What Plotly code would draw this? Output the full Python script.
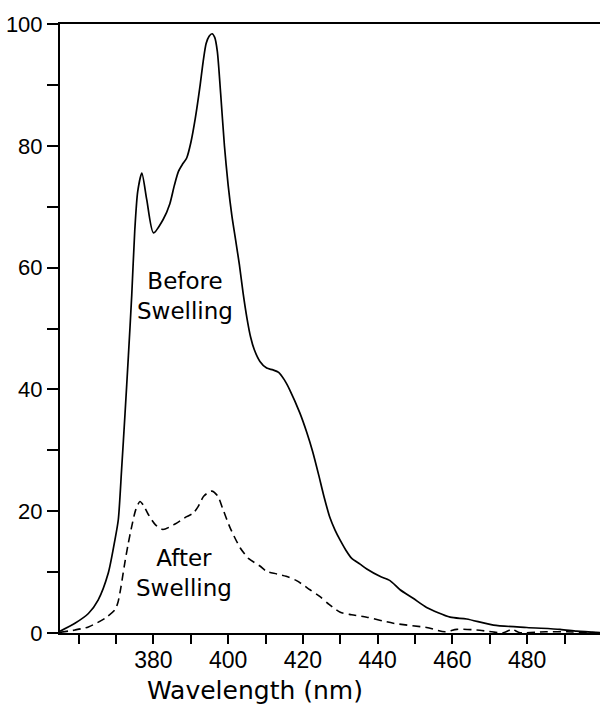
import plotly.graph_objects as go

# Data
before_nm = [355.0, 359.0, 362.6, 365.2, 367.9, 369.7, 370.6, 371.5, 372.4, 373.3,
             374.2, 375.0, 375.8, 376.9, 378.2, 380.0, 382.6, 384.4, 385.6, 386.7,
             387.8, 388.9, 390.0, 391.2, 392.4, 393.3, 394.1, 394.9, 395.7, 396.4,
             397.1, 398.0, 399.0, 400.0, 401.0, 402.0, 403.0, 404.0, 405.0, 406.0,
             407.0, 408.5, 410.3, 412.0, 413.5, 415.0, 416.5, 419.2, 421.0, 422.6,
             424.2, 425.6, 427.2, 428.6, 430.0, 431.5, 433.0, 435.3, 437.1, 440.6,
             443.3, 446.0, 449.5, 453.1, 459.4, 463.8, 471.0, 479.9, 488.8, 493.3,
             499.5]
before_val = [0.3, 1.6, 3.2, 5.4, 9.8, 15.3, 18.6, 27.0, 36.0, 45.5,
              55.5, 66.0, 72.5, 75.5, 71.2, 65.7, 67.9, 70.5, 73.5, 75.8,
              77.0, 78.0, 80.5, 84.5, 89.5, 93.8, 96.8, 98.0, 98.4, 97.8,
              95.5, 88.5, 80.0, 73.5, 68.5, 64.5, 60.5, 55.8, 51.8, 48.6,
              46.5, 44.6, 43.5, 43.2, 42.8, 41.6, 39.9, 36.1, 33.0, 29.8,
              26.0, 22.5, 19.0, 16.9, 15.2, 13.6, 12.3, 11.3, 10.5, 9.3,
              8.6, 7.1, 5.7, 4.2, 2.6, 2.3, 1.3, 0.9, 0.6, 0.3,
              0.05]

after_nm = [355.0, 359.0, 362.6, 367.0, 369.7, 370.5, 371.3, 372.2, 373.2, 374.3,
            375.3, 376.4, 377.3, 378.6, 380.5, 382.5, 385.8, 388.9, 390.7, 392.0,
            393.5, 395.6, 397.2, 398.5, 400.5, 403.2, 405.5, 408.5, 410.3, 413.0,
            415.5, 418.3, 421.9, 424.5, 427.0, 430.0, 433.0, 437.1, 444.2, 453.1,
            458.0, 461.2, 466.5, 473.6, 475.9, 478.1, 485.0, 490.6, 499.5]
after_val = [0.1, 0.5, 1.0, 2.4, 3.8, 5.0, 7.5, 11.0, 14.5, 17.8,
             20.3, 21.6, 21.0, 19.5, 17.8, 17.0, 17.9, 19.1, 19.7, 20.8,
             22.5, 23.3, 22.5, 20.5, 17.3, 14.0, 12.2, 11.0, 10.1, 9.7,
             9.3, 8.6, 7.1, 6.0, 4.7, 3.4, 3.0, 2.6, 1.6, 0.9,
             0.2, 0.6, 0.5, 0.05, 0.6, 0.05, 0.2, 0.2, 0.0]

x_tickvals = [360, 370, 380, 390, 400, 410, 420, 430, 440, 450, 460, 470, 480, 490]
x_ticktext = ["", "", "380", "", "400", "", "420", "", "440", "", "460", "", "480", ""]
y_tickvals = [0, 10, 20, 30, 40, 50, 60, 70, 80, 90, 100]
y_ticktext = ["0", "", "20", "", "40", "", "60", "", "80", "", "100"]

fig = go.Figure()
fig.add_trace(go.Scatter(x=before_nm, y=before_val, mode="lines",
                         line=dict(color="black", width=1.7, shape="spline", smoothing=0.7),
                         showlegend=False, hoverinfo="skip"))
fig.add_trace(go.Scatter(x=after_nm, y=after_val, mode="lines",
                         line=dict(color="black", width=1.6, shape="spline", smoothing=0.7,
                                   dash="8px,5px"),
                         showlegend=False, hoverinfo="skip"))

fig.add_annotation(x=388.45, y=55.4, xref="x", yref="y", text="Before<br>Swelling",
                   showarrow=False, font=dict(family="DejaVu Sans", size=23, color="black"),
                   xanchor="center", yanchor="middle", align="center")
fig.add_annotation(x=388.2, y=9.9, xref="x", yref="y", text="After<br>Swelling",
                   showarrow=False, font=dict(family="DejaVu Sans", size=23, color="black"),
                   xanchor="center", yanchor="middle", align="center")
fig.add_annotation(x=(255 - 60) / 540, y=-(690 - 633) / 609, xref="paper", yref="paper",
                   text="Wavelength (nm)", showarrow=False,
                   font=dict(family="DejaVu Sans", size=25, color="black"),
                   xanchor="center", yanchor="middle")

fig.update_layout(
    width=600, height=713,
    margin=dict(l=60, r=0, t=24, b=80),
    paper_bgcolor="white", plot_bgcolor="white",
    xaxis=dict(range=[355.0, 499.5], tickmode="array", tickvals=x_tickvals, ticktext=x_ticktext,
               ticks="outside", ticklen=9, tickwidth=1.5, tickcolor="black",
               showline=True, linecolor="black", linewidth=2, mirror=True,
               showgrid=False, zeroline=False, ticklabelstandoff=-4,
               tickfont=dict(family="Liberation Sans", size=23, color="black")),
    yaxis=dict(range=[0, 100], tickmode="array", tickvals=y_tickvals, ticktext=y_ticktext,
               ticks="outside", ticklen=11, tickwidth=1.5, tickcolor="black",
               showline=True, linecolor="black", linewidth=2,
               showgrid=False, zeroline=False,
               tickfont=dict(family="Liberation Sans", size=22, color="black")),
)

fig.write_html("out.html")
